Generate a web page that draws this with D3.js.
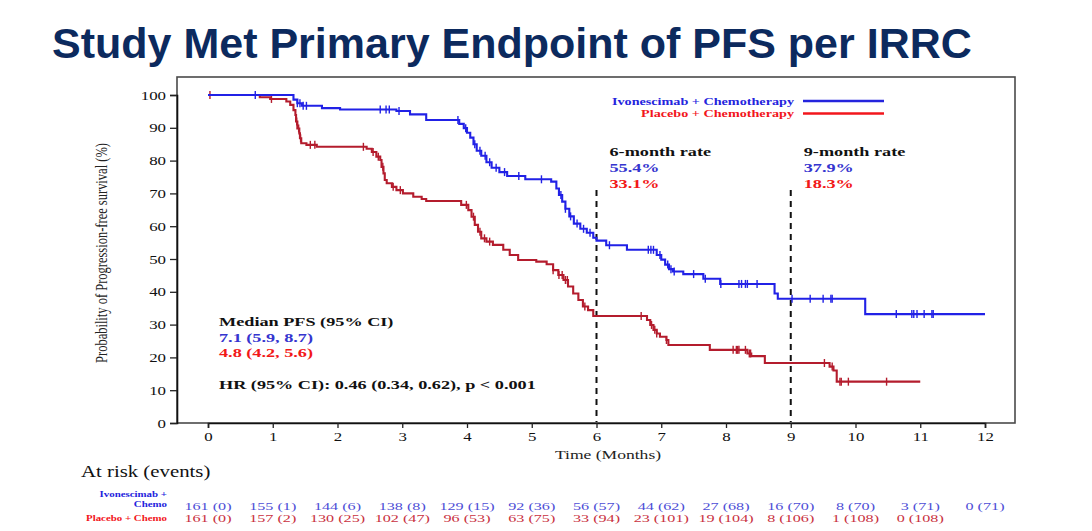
<!DOCTYPE html>
<html><head><meta charset="utf-8">
<script src="https://cdn.jsdelivr.net/npm/d3@7"></script>
<style>html,body{margin:0;padding:0;background:#fff;overflow:hidden} svg{display:block}</style>
</head><body>
<script>
// ---------- data ----------
const title = "Study Met Primary Endpoint of PFS per IRRC";
const seriesNames = ["Ivonescimab + Chemotherapy", "Placebo + Chemotherapy"];
const xTicks = [0,1,2,3,4,5,6,7,8,9,10,11,12];
const yTicks = [0,10,20,30,40,50,60,70,80,90,100];

// Kaplan-Meier steps: time (months) at which survival (%) changes to the given value
const blueTimes = [0,1.32,1.38,1.45,1.76,2.04,2.91,3.12,3.37,3.88,3.95,4.0,4.05,4.1,4.15,4.22,4.3,4.38,4.5,4.62,4.9,5.3,5.38,5.42,5.47,5.52,5.58,5.65,5.75,5.85,5.95,6.0,6.15,6.47,6.93,7.0,7.06,7.12,7.18,7.34,7.65,7.91,8.75,8.8,10.15];
const blueSurv  = [100,98.6,97.5,96.7,96.0,95.6,95.1,94.1,92.4,91.2,89.9,88.5,87.0,85.0,83.0,81.5,79.5,77.8,76.5,75.3,74.3,73.6,71.5,69.5,67.5,65.3,63.0,60.8,59.2,58.0,56.5,55.6,54.2,52.8,51.2,49.8,48.3,46.9,46.2,45.4,44.0,42.4,39.5,37.9,33.2];
const blueEnd = 12.0;
const blueCensor = [0.73,1.38,1.42,1.47,1.52,2.66,2.75,2.8,2.95,3.86,3.98,4.12,4.2,4.28,4.35,4.45,4.58,4.8,5.15,5.45,5.52,5.6,5.7,5.8,5.9,6.2,6.8,6.84,6.88,6.98,7.1,7.15,7.2,7.5,7.68,7.92,8.2,8.24,8.3,8.33,8.48,9.02,9.3,9.5,9.62,9.64,10.63,10.87,10.9,10.95,11.06,11.18,11.2];

const redTimes = [0,0.8,0.96,1.21,1.27,1.32,1.35,1.36,1.38,1.41,1.42,1.44,1.52,1.68,2.45,2.53,2.6,2.66,2.68,2.71,2.73,2.76,2.84,2.91,3.01,3.17,3.3,3.37,3.91,4.02,4.07,4.12,4.17,4.22,4.30,4.40,4.56,4.66,4.79,5.07,5.23,5.33,5.41,5.49,5.56,5.64,5.72,5.79,5.87,5.95,6.78,6.83,6.88,6.93,6.98,7.08,7.11,7.75,8.33,8.39,8.6,9.6,9.66,9.71];
const redSurv  = [100,99.3,98.8,98.0,97.0,95.4,93.9,91.9,89.8,88.3,86.8,85.3,84.8,84.2,83.6,82.6,81.2,80.2,78.1,76.1,74.1,73.1,72.0,71.0,70.0,69.0,68.3,67.7,66.5,64.9,62.9,60.4,58.3,56.3,55.3,54.3,52.8,51.2,49.7,49.2,48.4,46.6,45.1,43.6,41.6,39.5,37.5,35.5,34.4,32.6,31.4,29.9,28.4,27.3,26.3,25.3,23.8,22.3,21.2,20.4,18.3,17.2,16.0,12.6];
const redEnd = 11.0;
const redCensor = [0.03,0.98,1.37,1.4,1.43,1.58,1.65,2.4,2.55,2.63,2.7,2.86,2.97,3.99,4.1,4.2,4.27,4.35,5.33,5.42,5.47,5.52,5.55,5.82,6.69,6.85,6.9,6.93,7.08,8.11,8.16,8.18,8.2,8.3,8.36,8.38,9.52,9.64,9.76,9.78,9.89,10.48];

const rateMonths = [6, 9];
const rateLabels = ["6-month rate", "9-month rate"];
const rateBlue = ["55.4%", "37.9%"];
const rateRed = ["33.1%", "18.3%"];

const medianLines = ["Median PFS (95% CI)", "7.1 (5.9, 8.7)", "4.8 (4.2, 5.6)"];
const hrLine = "HR (95% CI): 0.46 (0.34, 0.62), p < 0.001";

const riskTimes = [0,1,2,3,4,5,6,7,8,9,10,11,12];
const riskBlue = ["161 (0)","155 (1)","144 (6)","138 (8)","129 (15)","92 (36)","56 (57)","44 (62)","27 (68)","16 (70)","8 (70)","3 (71)","0 (71)"];
const riskRed  = ["161 (0)","157 (2)","130 (25)","102 (47)","96 (53)","63 (75)","33 (94)","23 (101)","19 (104)","8 (106)","1 (108)","0 (108)"];
const riskNamesBlue = ["Ivonescimab +", "Chemo"];
const riskNameRed = "Placebo + Chemo";

// ---------- drawing ----------
const W = 1092, H = 531;
const SX = 1.35; // horizontal stretch of the chart's serif text
const serif = "'Liberation Serif','Times New Roman',serif";
const C = {blue:"#2121e6", red:"#b41c2d", legBlue:"#2424dd", legRed:"#f2161c",
           annBlue:"#3535cf", annRed:"#f21818", riskBlue:"#4d4dd6", riskRed:"#c93040", title:"#0c2a5e"};

const svg = d3.select("body").append("svg").attr("width", W).attr("height", H);

const x = d3.scaleLinear().domain([0,12]).range([208, 985]);
const y = d3.scaleLinear().domain([0,100]).range([423, 95]);

function stext(parent, px, py, str, o) {
  return parent.append("text")
    .attr("transform", `translate(${px},${py}) scale(${o.sx ?? SX},1)`)
    .attr("text-anchor", o.anchor || "start")
    .style("font-family", o.family || serif)
    .style("font-size", o.size + "px")
    .style("font-weight", o.weight || "normal")
    .style("fill", o.fill || "#000")
    .text(str);
}

// title
svg.append("text").attr("x", 52).attr("y", 58)
  .style("font-family", "'Liberation Sans',Arial,sans-serif")
  .style("font-size", "43px").style("font-weight", "bold").style("fill", C.title)
  .text(title);

// frame
svg.append("rect").attr("x", 177).attr("y", 77).attr("width", 838).attr("height", 346)
  .attr("fill", "none").attr("stroke", "#4a4a4a").attr("stroke-width", 1.6);

// axes
const yAxis = svg.append("g").attr("transform", "translate(177,0)")
  .call(d3.axisLeft(y).tickValues(yTicks).tickSize(7).tickPadding(4));
const xAxis = svg.append("g").attr("transform", "translate(0,423)")
  .call(d3.axisBottom(x).tickValues(xTicks).tickSize(5).tickPadding(4));
[yAxis, xAxis].forEach(g => {
  g.select(".domain").attr("stroke", "#111").attr("stroke-width", 1.6);
  g.selectAll(".tick line").attr("stroke", "#222").attr("stroke-width", 1.3);
  g.selectAll(".tick text").style("font-family", serif).style("font-size", "12.5px").style("fill", "#111");
});
yAxis.selectAll(".tick text").attr("x", -11 / SX).attr("transform", `scale(${SX},1)`);
xAxis.selectAll(".tick text").attr("transform", `scale(${SX},1)`);

// axis titles
svg.append("text").attr("transform", `translate(107,253) rotate(-90) scale(1,1.3)`)
  .attr("text-anchor", "middle").style("font-family", serif).style("font-size", "12.5px")
  .style("fill", "#222").text("Probability of Progression-free survival (%)");
stext(svg, 608, 459, "Time (Months)", {size: 13, anchor: "middle", fill: "#222"});

// dashed rate lines
rateMonths.forEach(m => {
  svg.append("line").attr("x1", x(m)).attr("x2", x(m)).attr("y1", 190).attr("y2", 422)
    .attr("stroke", "#111").attr("stroke-width", 2).attr("stroke-dasharray", "6,5");
});

// curves
function steps(times, surv, end) {
  const pts = times.map((t, i) => [t, surv[i]]);
  pts.push([end, surv[surv.length - 1]]);
  return pts;
}
function survAt(times, surv, t) {
  let v = surv[0];
  for (let i = 0; i < times.length; i++) if (times[i] <= t) v = surv[i];
  return v;
}
const line = d3.line().x(d => x(d[0])).y(d => y(d[1])).curve(d3.curveStepAfter);
const series = [
  {times: redTimes, surv: redSurv, end: redEnd, cens: redCensor, color: C.red},
  {times: blueTimes, surv: blueSurv, end: blueEnd, cens: blueCensor, color: C.blue}
];
series.forEach(s => {
  svg.append("path").datum(steps(s.times, s.surv, s.end)).attr("d", line)
    .attr("fill", "none").attr("stroke", s.color).attr("stroke-width", 2.1);
  svg.append("g").selectAll("line").data(s.cens).join("line")
    .attr("x1", d => x(d)).attr("x2", d => x(d))
    .attr("y1", d => y(survAt(s.times, s.surv, d)) - 4)
    .attr("y2", d => y(survAt(s.times, s.surv, d)) + 4)
    .attr("stroke", s.color).attr("stroke-width", 1.4);
});

// legend
const legColors = [C.legBlue, C.legRed];
seriesNames.forEach((n, i) => {
  const ly = 101 + i * 12.5;
  stext(svg, 794, ly + 3.5, n, {size: 10.5, weight: "bold", anchor: "end", fill: legColors[i]});
  svg.append("line").attr("x1", 803).attr("x2", 884).attr("y1", ly).attr("y2", ly)
    .attr("stroke", legColors[i]).attr("stroke-width", 2.6);
});

// rate annotations
rateMonths.forEach((m, i) => {
  const ax = x(m) + 13;
  stext(svg, ax, 156, rateLabels[i], {size: 13.5, weight: "bold", fill: "#111"});
  stext(svg, ax, 172, rateBlue[i], {size: 13.5, weight: "bold", fill: C.annBlue});
  stext(svg, ax, 188, rateRed[i], {size: 13.5, weight: "bold", fill: C.annRed});
});

// median block
const medColors = ["#111", C.annBlue, C.annRed];
medianLines.forEach((t, i) => {
  stext(svg, 219, 326 + i * 15.7, t, {size: 13.5, weight: "bold", fill: medColors[i]});
});
stext(svg, 219, 388.5, hrLine, {size: 13.5, weight: "bold", fill: "#111"});

// at risk table
stext(svg, 81, 477, "At risk (events)", {size: 16, fill: "#111", sx: 1.3});
stext(svg, 167, 497, riskNamesBlue[0], {size: 7.5, weight: "bold", anchor: "end", fill: C.legBlue, sx: 1.45});
stext(svg, 167, 506.5, riskNamesBlue[1], {size: 7.5, weight: "bold", anchor: "end", fill: C.legBlue, sx: 1.45});
stext(svg, 167, 520.5, riskNameRed, {size: 7.5, weight: "bold", anchor: "end", fill: C.legRed, sx: 1.45});
riskBlue.forEach((t, i) => stext(svg, x(riskTimes[i]), 509.5, t, {size: 11, anchor: "middle", fill: C.riskBlue, sx: 1.47}));
riskRed.forEach((t, i) => stext(svg, x(riskTimes[i]), 521.5, t, {size: 11, anchor: "middle", fill: C.riskRed, sx: 1.47}));
</script>
</body></html>
